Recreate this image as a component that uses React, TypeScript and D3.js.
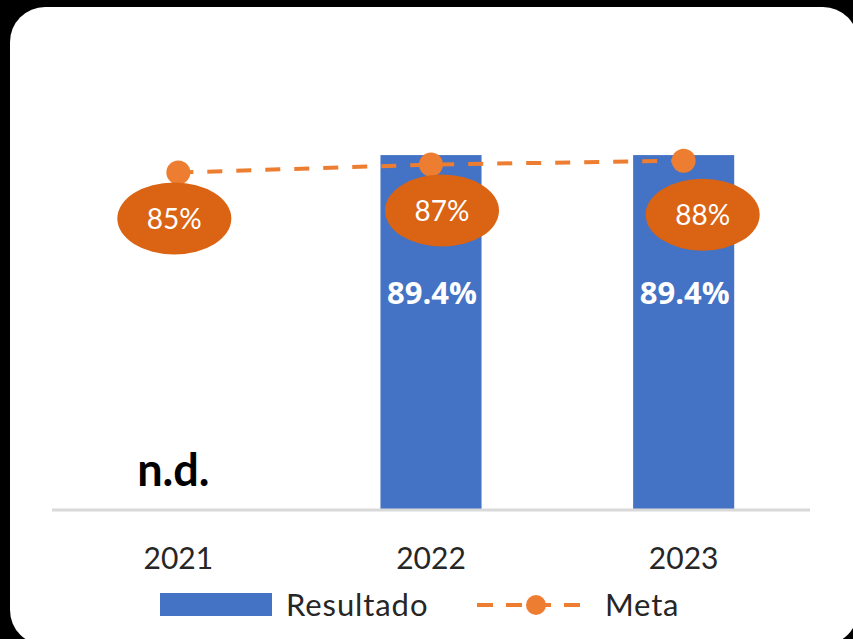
import React from "react";
import * as d3 from "d3";

const categories = ["2021", "2022", "2023"];
const resultado: (number | null)[] = [null, 89.4, 89.4];
const meta = [85, 87, 88];
const resultadoLabels = ["n.d.", "89.4%", "89.4%"];
const metaLabels = ["85%", "87%", "88%"];
const legendItems = ["Resultado", "Meta"];

// label bubble offsets from the marker (styling)
const bubbleOffsets = [
  [-4, 46],
  [11, 46],
  [19, 54],
];

const W = 853;
const H = 639;
const BLUE = "#4472C4";
const ORANGE = "#ED7D31";
const BUBBLE = "#DA6314";
const TEXT = "#262626";

export default function App() {
  const x = d3.scaleBand<string>().domain(categories).range([52, 810]).padding(0);
  const y = d3.scaleLinear().domain([0, 100]).range([510, 113]);
  const barW = x.bandwidth() * 0.4;
  const cx = (c: string) => (x(c) as number) + x.bandwidth() / 2;

  const line = d3
    .line<number>()
    .x((_, i) => cx(categories[i]))
    .y((d) => y(d));

  return (
    <svg
      width={W}
      height={H}
      style={{ position: "absolute", left: 0, top: 0, display: "block" }}
    >
      <rect x={0} y={0} width={W} height={H} fill="#000" />
      <rect x={10} y={7} width={848} height={638} rx={35} ry={35} fill="#fff" />

      {/* bars */}
      {resultado.map((v, i) =>
        v == null ? null : (
          <rect
            key={"b" + i}
            x={cx(categories[i]) - barW / 2}
            y={y(v)}
            width={barW}
            height={y(0) - y(v)}
            fill={BLUE}
          />
        )
      )}

      {/* baseline */}
      <line x1={52} x2={810} y1={y(0)} y2={y(0)} stroke="#D9D9D9" strokeWidth={3} />

      {/* bar labels */}
      {resultado.map((v, i) =>
        v == null ? (
          <text
            key={"l" + i}
            x={cx(categories[i]) - 5}
            y={486}
            textAnchor="middle"
            fontFamily="Lato"
            fontWeight={700}
            fontSize={45}
            fill="#000"
          >
            {resultadoLabels[i]}
          </text>
        ) : (
          <text
            key={"l" + i}
            x={cx(categories[i]) + 1}
            y={304}
            textAnchor="middle"
            fontFamily="Open Sans"
            fontWeight={700}
            fontSize={31}
            fill="#fff"
          >
            {resultadoLabels[i]}
          </text>
        )
      )}

      {/* meta line */}
      <path
        d={line(meta) || ""}
        fill="none"
        stroke={ORANGE}
        strokeWidth={4}
        strokeDasharray="15,14"
      />
      {meta.map((v, i) => (
        <circle key={"m" + i} cx={cx(categories[i])} cy={y(v)} r={12} fill={ORANGE} />
      ))}

      {/* meta bubbles */}
      {meta.map((v, i) => {
        const ex = cx(categories[i]) + bubbleOffsets[i][0];
        const ey = y(v) + bubbleOffsets[i][1];
        return (
          <g key={"e" + i}>
            <ellipse cx={ex} cy={ey} rx={57} ry={36} fill={BUBBLE} />
            <text
              x={ex}
              y={ey + 10}
              textAnchor="middle"
              fontFamily="Lato"
              fontSize={28}
              fill="#fff"
            >
              {metaLabels[i]}
            </text>
          </g>
        );
      })}

      {/* x axis labels */}
      {categories.map((c) => (
        <text
          key={"x" + c}
          x={cx(c)}
          y={569}
          textAnchor="middle"
          fontFamily="Lato"
          fontSize={30}
          fill={TEXT}
        >
          {c}
        </text>
      ))}

      {/* legend */}
      <rect x={160} y={593} width={112} height={23} fill={BLUE} />
      <text x={286} y={616} fontFamily="Lato" fontSize={31} letterSpacing={0.9} fill={TEXT}>
        {legendItems[0]}
      </text>
      <line
        x1={477}
        x2={583}
        y1={605}
        y2={605}
        stroke={ORANGE}
        strokeWidth={4}
        strokeDasharray="16,13"
      />
      <circle cx={536} cy={605} r={10} fill={ORANGE} />
      <text x={605} y={616} fontFamily="Lato" fontSize={31} letterSpacing={0.8} fill={TEXT}>
        {legendItems[1]}
      </text>
    </svg>
  );
}
